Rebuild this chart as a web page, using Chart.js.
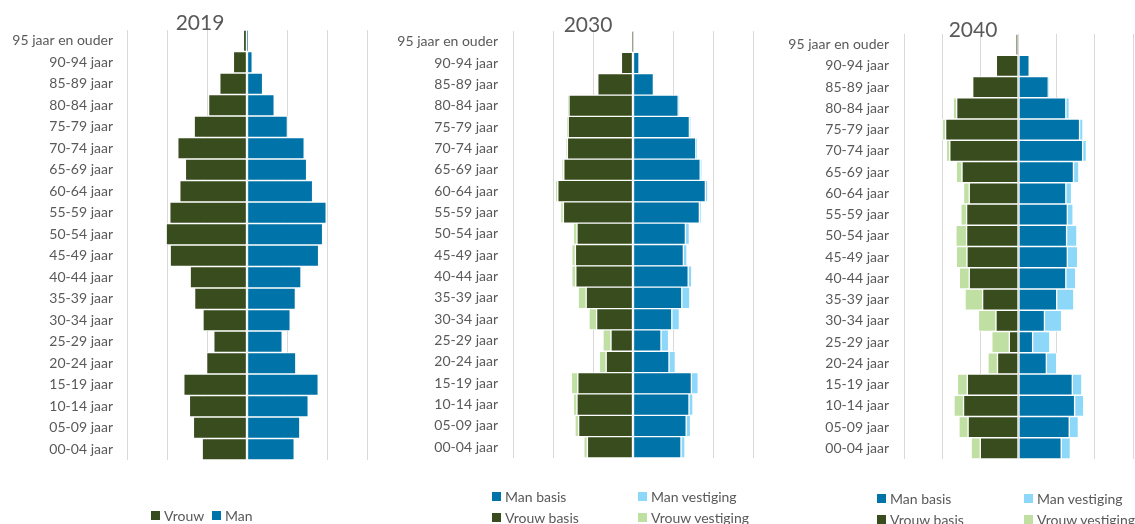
<!DOCTYPE html>
<html lang="nl">
<head>
    <meta charset="UTF-8">
    <title>Bevolkingsopbouw 2019 - 2030 - 2040</title>
    <script src="https://cdn.jsdelivr.net/npm/chart.js@4.4.1/dist/chart.umd.min.js"></script>
    <style>
        body { margin: 0; background: #ffffff; font-family: Lato, "Open Sans", sans-serif; }
        #wrap { position: relative; width: 1135px; height: 524px; overflow: hidden; }
        canvas { position: absolute; top: 0; }
        .title { position: absolute; font-size: 21px; color: #595959; transform: translateX(-50%); line-height: 1; }
        .legend { position: absolute; display: grid; row-gap: 4px; font-size: 14px; color: #595959; }
        .legend span.item { display: flex; align-items: center; white-space: nowrap; line-height: 17px; }
        .legend i { display: inline-block; width: 9px; height: 9px; margin-right: 4px; }
    </style>
</head>
<body>
<div id="wrap">
    <canvas id="c2019" width="380" height="524" style="left:0"></canvas>
    <canvas id="c2030" width="380" height="524" style="left:380px"></canvas>
    <canvas id="c2040" width="375" height="524" style="left:760px"></canvas>
</div>

<script>
    // leeftijdsgroepen, van oud (boven) naar jong (onder)
    const ageGroups = [
        '95 jaar en ouder', '90-94 jaar', '85-89 jaar', '80-84 jaar', '75-79 jaar',
        '70-74 jaar', '65-69 jaar', '60-64 jaar', '55-59 jaar', '50-54 jaar',
        '45-49 jaar', '40-44 jaar', '35-39 jaar', '30-34 jaar', '25-29 jaar',
        '20-24 jaar', '15-19 jaar', '10-14 jaar', '05-09 jaar', '00-04 jaar'
    ];

    // 2019 (aandeel in %)
    const vrouw2019 = [0.09, 0.34, 0.68, 0.96, 1.32, 1.73, 1.54, 1.68, 1.93, 2.02, 1.92, 1.42, 1.31, 1.10, 0.83, 1.01, 1.58, 1.44, 1.34, 1.12];
    const man2019 = [0.02, 0.13, 0.39, 0.68, 1.01, 1.43, 1.49, 1.64, 1.98, 1.89, 1.79, 1.35, 1.21, 1.08, 0.88, 1.22, 1.78, 1.53, 1.32, 1.18];

    // 2030
    const manBasis2030 = [0.00, 0.15, 0.51, 1.13, 1.41, 1.57, 1.68, 1.81, 1.66, 1.31, 1.26, 1.38, 1.22, 0.97, 0.70, 0.90, 1.46, 1.40, 1.33, 1.20];
    const manVest2030 = [0.00, 0.00, 0.00, 0.03, 0.03, 0.03, 0.04, 0.06, 0.05, 0.10, 0.09, 0.09, 0.20, 0.19, 0.19, 0.16, 0.17, 0.10, 0.11, 0.10];
    const vrouwBasis2030 = [0.01, 0.29, 0.88, 1.60, 1.62, 1.64, 1.73, 1.88, 1.74, 1.40, 1.44, 1.43, 1.17, 0.91, 0.55, 0.67, 1.38, 1.40, 1.36, 1.14];
    const vrouwVest2030 = [0.00, 0.00, 0.00, 0.03, 0.03, 0.03, 0.05, 0.06, 0.07, 0.09, 0.09, 0.10, 0.20, 0.19, 0.20, 0.17, 0.16, 0.09, 0.09, 0.09];

    // 2040
    const manBasis2040 = [0.00, 0.28, 0.78, 1.24, 1.60, 1.68, 1.44, 1.24, 1.28, 1.26, 1.28, 1.24, 1.00, 0.68, 0.37, 0.73, 1.41, 1.47, 1.33, 1.12];
    const manVest2040 = [0.00, 0.00, 0.01, 0.09, 0.09, 0.10, 0.14, 0.15, 0.15, 0.27, 0.27, 0.26, 0.45, 0.45, 0.45, 0.27, 0.25, 0.24, 0.24, 0.24];
    const vrouwBasis2040 = [0.07, 0.58, 1.20, 1.62, 1.91, 1.80, 1.48, 1.29, 1.36, 1.36, 1.35, 1.29, 0.94, 0.59, 0.24, 0.55, 1.34, 1.44, 1.32, 1.00];
    const vrouwVest2040 = [0.00, 0.00, 0.00, 0.09, 0.09, 0.09, 0.15, 0.15, 0.15, 0.28, 0.28, 0.26, 0.46, 0.46, 0.46, 0.25, 0.26, 0.25, 0.24, 0.24];

    const xTicks = [-3, -2, -1, 0, 1, 2, 3];

    const colors = {
        man: '#0073A9',
        manVest: '#8DD8F8',
        vrouw: '#384C1E',
        vrouwVest: '#C0DFA3'
    };

    const neg = arr => arr.map(v => -v);

    function ds(label, data, color) {
        return {
            label: label,
            data: data,
            backgroundColor: color,
            borderColor: '#ffffff',
            borderWidth: 1,
            borderSkipped: false,
            categoryPercentage: 1.0,
            barPercentage: 1.0
        };
    }

    function makePyramid(id, datasets, box) {
        const ctx = document.getElementById(id).getContext('2d');
        return new Chart(ctx, {
            type: 'bar',
            data: { labels: ageGroups, datasets: datasets },
            options: {
                indexAxis: 'y',
                responsive: false,
                animation: false,
                layout: {
                    padding: { top: box.top, bottom: box.bottom, right: box.right, left: 0 }
                },
                plugins: {
                    legend: { display: false },
                    tooltip: {
                        callbacks: {
                            label: c => c.dataset.label + ': ' + Math.abs(c.raw).toFixed(2) + '%'
                        }
                    }
                },
                scales: {
                    x: {
                        stacked: true,
                        min: xTicks[0],
                        max: xTicks[xTicks.length - 1],
                        ticks: { display: false, stepSize: 1 },
                        grid: { color: '#d9d9d9', lineWidth: 1, drawTicks: false },
                        border: { display: false },
                        afterFit: s => { s.height = 0; }
                    },
                    y: {
                        stacked: true,
                        grid: { display: false, drawTicks: false },
                        border: { display: false },
                        ticks: {
                            color: '#595959',
                            padding: box.labelPad,
                            autoSkip: false,
                            font: { family: 'Lato', size: 14 }
                        },
                        afterFit: s => { s.width = box.axisWidth; }
                    }
                }
            }
        });
    }

    const chart2019 = makePyramid('c2019', [
        ds('Vrouw', neg(vrouw2019), colors.vrouw),
        ds('Man', man2019, colors.man)
    ], { top: 30, bottom: 64, right: 13, axisWidth: 127, labelPad: 14 });

    const chart2030 = makePyramid('c2030', [
        ds('Man basis', manBasis2030, colors.man),
        ds('Man vestiging', manVest2030, colors.manVest),
        ds('Vrouw basis', neg(vrouwBasis2030), colors.vrouw),
        ds('Vrouw vestiging', neg(vrouwVest2030), colors.vrouwVest)
    ], { top: 31, bottom: 66, right: 7, axisWidth: 133, labelPad: 15 });

    const chart2040 = makePyramid('c2040', [
        ds('Man basis', manBasis2040, colors.man),
        ds('Man vestiging', manVest2040, colors.manVest),
        ds('Vrouw basis', neg(vrouwBasis2040), colors.vrouw),
        ds('Vrouw vestiging', neg(vrouwVest2040), colors.vrouwVest)
    ], { top: 34, bottom: 65, right: 2, axisWidth: 144, labelPad: 15 });

    // titels en legenda's als tekst boven de canvassen
    const wrap = document.getElementById('wrap');

    function addTitle(text, cx, top) {
        const d = document.createElement('div');
        d.className = 'title';
        d.textContent = text;
        d.style.left = cx + 'px';
        d.style.top = top + 'px';
        wrap.appendChild(d);
    }

    function addLegend(chart, left, top, cols) {
        const d = document.createElement('div');
        d.className = 'legend';
        d.style.left = left + 'px';
        d.style.top = top + 'px';
        d.style.gridTemplateColumns = cols;
        chart.data.datasets.forEach(set => {
            const item = document.createElement('span');
            item.className = 'item';
            item.innerHTML = '<i style="background:' + set.backgroundColor + '"></i>' + set.label;
            d.appendChild(item);
        });
        wrap.appendChild(d);
    }

    addTitle('2019', 200, 11);
    addTitle('2030', 588, 13);
    addTitle('2040', 973, 18);

    addLegend(chart2019, 151, 507, '61px 60px');
    addLegend(chart2030, 492, 488, '146px 146px');
    addLegend(chart2040, 877, 490, '147px 147px');
</script>
</body>
</html>
